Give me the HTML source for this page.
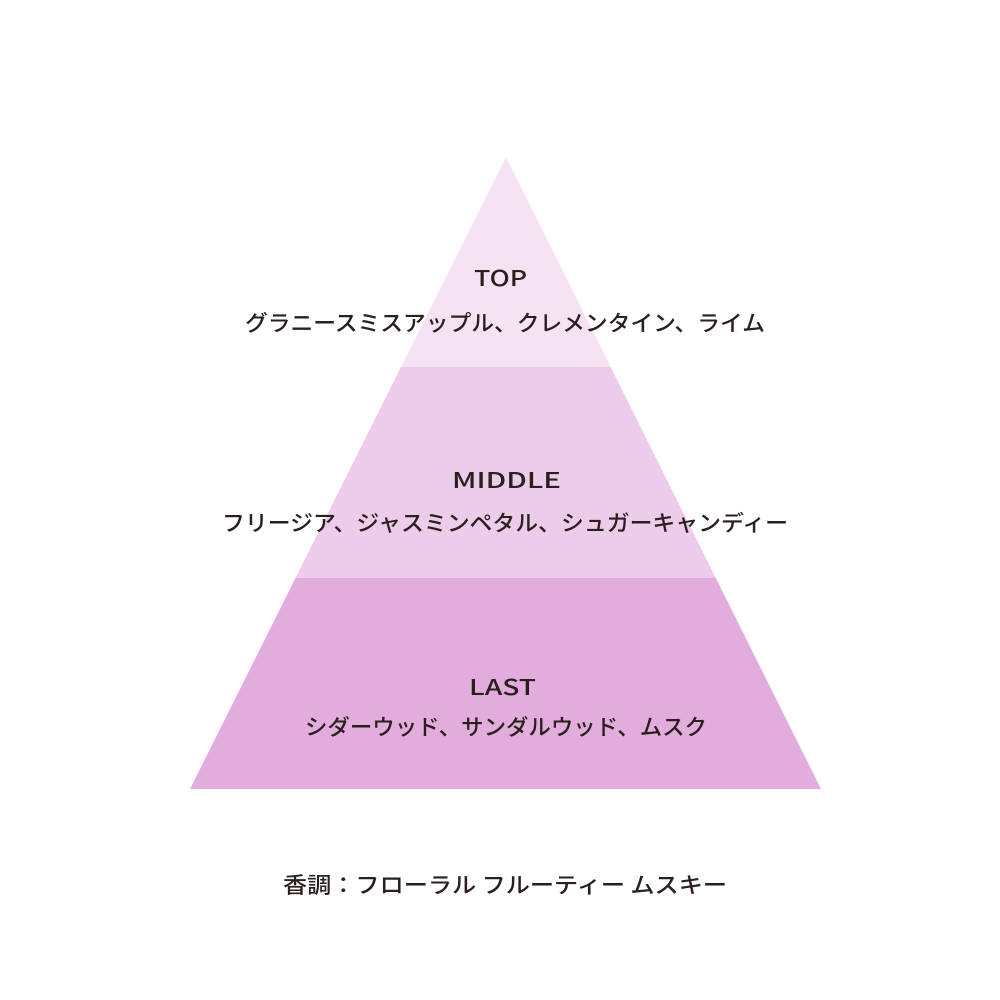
<!DOCTYPE html>
<html><head><meta charset="utf-8"><style>
html,body{margin:0;padding:0;background:#fff;}
svg{display:block;}
text{font-family:"Liberation Sans","Noto Sans CJK JP",sans-serif;fill:#2a1f1d;}
.jp{font-family:"Noto Sans CJK JP",sans-serif;font-weight:500;font-size:22px;}
.en{font-family:"Noto Sans CJK JP","Liberation Sans",sans-serif;font-weight:500;font-size:22px;}
</style></head><body>
<svg width="1000" height="1000" viewBox="0 0 1000 1000" xmlns="http://www.w3.org/2000/svg">
<defs><clipPath id="tri"><polygon points="506,157 190,789 821,789"/></clipPath></defs>
<g clip-path="url(#tri)">
<rect x="0" y="150" width="1000" height="218" fill="#f5e3f3"/>
<rect x="0" y="367" width="1000" height="211" fill="#edcbea"/>
<rect x="0" y="578" width="1000" height="212" fill="#e2addc"/>
</g>
<text class="en" x="474" y="286" textLength="53" lengthAdjust="spacingAndGlyphs">TOP</text>
<text class="jp" x="245" y="331" textLength="520" lengthAdjust="spacingAndGlyphs">グラニースミスアップル、クレメンタイン、ライム</text>
<text class="en" x="452" y="488" textLength="109" lengthAdjust="spacingAndGlyphs">MIDDLE</text>
<text class="jp" x="222" y="531" textLength="566" lengthAdjust="spacingAndGlyphs">フリージア、ジャスミンペタル、シュガーキャンディー</text>
<text class="en" x="469" y="695" textLength="67" lengthAdjust="spacingAndGlyphs">LAST</text>
<text class="jp" x="305" y="735" textLength="402" lengthAdjust="spacingAndGlyphs">シダーウッド、サンダルウッド、ムスク</text>
<text class="jp" x="283" y="893" textLength="444" lengthAdjust="spacingAndGlyphs">香調：フローラル フルーティー ムスキー</text>
</svg>
</body></html>
